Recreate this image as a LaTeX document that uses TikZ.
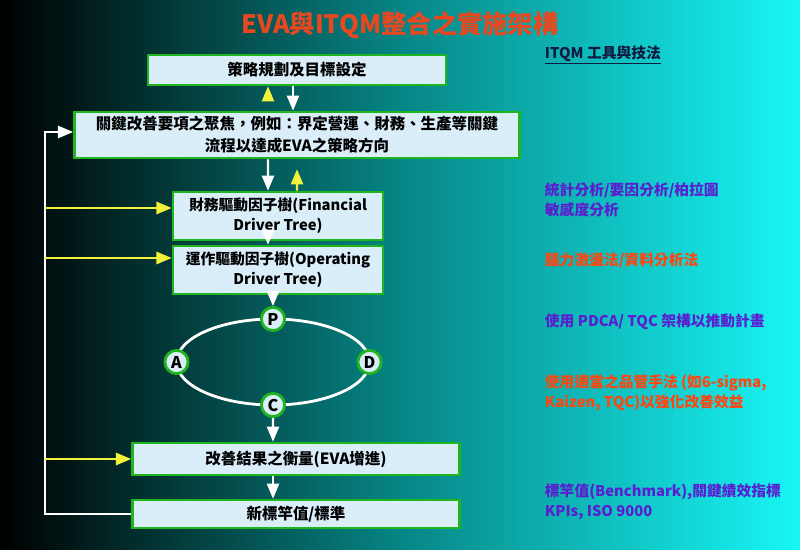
\documentclass[tikz,border=0pt]{standalone}
\usepackage{fontspec}
\setmainfont{Noto Sans CJK TC}
\usetikzlibrary{arrows}

\definecolor{bgteal}{HTML}{078585}
\definecolor{bgcyan}{HTML}{18F6F6}
\definecolor{boxfill}{HTML}{DAEEFA}
\definecolor{boxline}{HTML}{1FB51F}
\definecolor{titlered}{HTML}{E84820}
\definecolor{toolpurple}{HTML}{5A1ED0}
\definecolor{toolorange}{HTML}{FF4510}
\definecolor{arrowyellow}{HTML}{F2F23A}
\definecolor{headnavy}{HTML}{101A40}

\tikzset{
  stepbox/.style={draw=boxline, line width=2pt, fill=boxfill, align=center,
    inner sep=2pt, font=\bfseries\fontsize{11}{15.5}\selectfont},
  pdca/.style={circle, draw=boxline, line width=2pt, fill=boxfill, inner sep=0pt,
    minimum size=0.58cm, font=\bfseries\fontsize{11.5}{12}\selectfont},
  wharrow/.style={draw=white, line width=1.5pt, -triangle 45},
  yelarrow/.style={draw=arrowyellow, line width=1.5pt, -triangle 45},
  tooltext/.style={anchor=west, align=left, font=\bfseries\fontsize{10.5}{14}\selectfont}
}

\begin{document}
\begin{tikzpicture}[x=0.025cm, y=-0.025cm]
    \useasboundingbox (0,0) rectangle (800,550);
    \shade[left color=black, right color=bgteal] (0,0) rectangle (400,550);
    \shade[left color=bgteal, right color=bgcyan] (399,0) rectangle (800,550);

    \node[font=\bfseries\fontsize{18}{20}\selectfont, text=titlered] (title) at (400,25) {EVA與ITQM整合之實施架構};

    \node[stepbox, minimum width=7.45cm, minimum height=0.75cm] (plan) at (297,70) {策略規劃及目標設定};
    \node[stepbox, minimum width=11.125cm, minimum height=1.15cm] (focus) at (297,135) {關鍵改善要項之聚焦，例如：界定營運、財務、生產等關鍵\\流程以達成EVA之策略方向};
    \node[stepbox, minimum width=5.25cm, minimum height=1.2cm, font=\bfseries\fontsize{10.5}{14}\selectfont] (fintree) at (278,216) {財務驅動因子樹(Financial\\Driver Tree)};
    \node[stepbox, minimum width=5.25cm, minimum height=1.2cm, font=\bfseries\fontsize{10.5}{14}\selectfont] (optree) at (278,270) {運作驅動因子樹(Operating\\Driver Tree)};
    \node[stepbox, minimum width=8.175cm, minimum height=0.8cm] (measure) at (296,459) {改善結果之衡量(EVA增進)};
    \node[stepbox, minimum width=8.175cm, minimum height=0.7cm] (newstd) at (296,514) {新標竿值/標準};

    \draw[white, line width=2pt] (273,362) ellipse [x radius=2.41cm, y radius=1.075cm];
    \node[pdca] (P) at (273,319) {P};
    \node[pdca] (D) at (369.5,362) {D};
    \node[pdca] (C) at (273,405) {C};
    \node[pdca] (A) at (176.5,362) {A};

    \draw[yelarrow] ([xshift=-0.725cm, yshift=0.3cm]focus.north) -- ([xshift=-0.725cm]plan.south);
    \draw[wharrow] ([xshift=-0.1cm]plan.south) -- ([xshift=-0.1cm]focus.north);
    \draw[wharrow] ([xshift=-0.725cm]focus.south) -- ([xshift=-0.25cm]fintree.north);
    \draw[yelarrow] ([xshift=0.475cm]fintree.north) -- ([yshift=-0.25cm]focus.south);
    \draw[wharrow] ([xshift=-0.25cm]fintree.south) -- ([xshift=-0.25cm]optree.north);
    \draw[wharrow] ([xshift=-0.125cm]optree.south) -- (P.north);
    \draw[wharrow] (C.south) -- ([xshift=-0.575cm]measure.north);
    \draw[wharrow] ([xshift=-0.575cm]measure.south) -- ([xshift=-0.575cm]newstd.north);

    \coordinate (loopbot) at (45,514);
    \coordinate (looptop) at (45,132);
    \coordinate (finin) at (45,208);
    \coordinate (opin) at (45,258);
    \coordinate (measin) at (45,459);
    \draw[wharrow] (newstd.west) -- (loopbot) -- (looptop) -- (looptop -| focus.west);
    \draw[yelarrow] (finin) -- (finin -| fintree.west);
    \draw[yelarrow] (opin) -- (opin -| optree.west);
    \draw[yelarrow] (measin) -- (measure.west);

    \node[tooltext, text=headnavy] (tools) at (540,55) {\underline{ITQM 工具與技法}};
    \node[tooltext, text=toolpurple] (stat) at (540,200) {統計分析/要因分析/柏拉圖\\敏感度分析};
    \node[tooltext, text=toolorange] (brain) at (540,260) {腦力激盪法/資料分析法};
    \node[tooltext, text=toolpurple] (pdcatool) at (540,322) {使用 PDCA/ TQC 架構以推動計畫};
    \node[tooltext, text=toolorange] (qctool) at (540,393) {使用適當之品管手法 (如6-sigma,\\Kaizen, TQC)以強化改善效益};
    \node[tooltext, text=toolpurple] (bench) at (540,502) {標竿值(Benchmark),關鍵績效指標\\KPIs, ISO 9000};
\end{tikzpicture}
\end{document}
